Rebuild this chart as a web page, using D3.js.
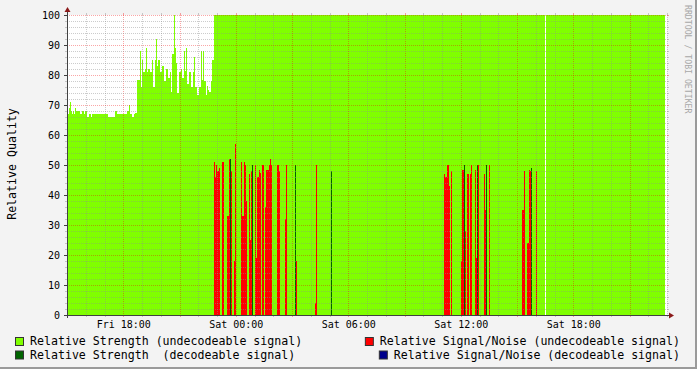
<!DOCTYPE html>
<html>
<head>
<meta charset="utf-8">
<script src="https://cdn.jsdelivr.net/npm/d3@7/dist/d3.min.js"></script>
<style>
    body { margin: 0; background: #f3f3f3; }
    svg { display: block; }
    text { font-family: "DejaVu Sans Mono", monospace; fill: #000; white-space: pre; }
</style>
</head>
<body>
<svg id="chart" width="697" height="369"></svg>
<script>
// time window: Fri 15:00 -> Sat 23:00, one sample every 192 s
var startTime = new Date(2008, 2, 7, 15, 0);
var endTime = new Date(2008, 2, 8, 23, 0);
var stepSec = 192;

var yTicks = [0, 10, 20, 30, 40, 50, 60, 70, 80, 90, 100];

// [first sample, value] runs, each lasts until the next run starts (null = no data)
var strengthUndecodeable = [
    [0, 67], [2, 69], [3, 71], [4, 68], [5, 67], [6, 68], [7, 67], [8, 69], [9, 68],
    [13, 67], [15, 68], [17, 67], [18, 68], [20, 66], [22, 67], [24, 66], [25, 67],
    [41, 66], [48, 68], [50, 67], [60, 68], [62, 70], [63, 67], [65, 66], [67, 67],
    [68, 67.5], [70, 78.5], [73, 88], [74, 76], [75, 85], [76, 81], [78, 82], [79, 89],
    [80, 81], [81, 82], [83, 81], [85, 85], [86, 76], [88, 85], [89, 92], [90, 83],
    [91, 85], [93, 81], [95, 83], [97, 78], [99, 82], [101, 79], [103, 81], [104, 74.5],
    [105, 87], [107, 100], [108, 89], [109, 84], [110, 74], [112, 81], [114, 82],
    [115, 79], [117, 88], [118, 81.5], [119, 89], [120, 77], [122, 81], [124, 76],
    [126, 81], [127, 86], [128, 76], [130, 73.5], [132, 76], [134, 88], [135, 78.5],
    [136, 88], [137, 78], [139, 73.5], [140, 76.5], [141, 75], [142, 74.5], [144, 78],
    [145, 85], [147, 100], [478, null], [479, 100], [598, null]
];

// [sample, value], one sample wide
var snrUndecodeable = [
    [147, 51], [148, 46], [149, 50], [150, 48], [151, 48], [152, 49], [155, 51], [156, 51],
    [160, 33], [161, 33], [162, 52], [164, 48], [167, 18], [168, 57], [174, 51], [175, 33],
    [176, 33], [177, 51], [178, 50], [179, 38], [182, 47], [183, 25], [184, 48], [188, 50],
    [189, 19], [190, 46], [191, 46], [192, 48.5], [193, 47.3], [195, 50], [196, 50],
    [198, 36], [199, 48.5], [200, 48.5], [201, 48.5], [202, 50], [203, 52], [204, 50],
    [210, 50], [211, 50], [212, 48], [218, 32], [219, 50], [229, 18], [248, 4], [249, 50],
    [377, 47], [378, 46], [379, 46], [380, 50], [381, 50], [382, 43], [384, 48],
    [394, 18], [395, 48.5], [396, 48.5], [397, 50], [398, 28], [400, 47], [401, 47],
    [403, 47], [404, 50], [408, 48.5], [409, 19], [410, 50], [411, 50], [417, 47],
    [418, 35], [419, 50], [422, 50], [455, 35], [456, 35], [457, 48], [460, 24],
    [461, 24], [462, 48.5], [463, 48], [464, 46], [469, 48]
];

var strengthDecodeable = [
    [163, 52], [185, 50], [228, 50], [264, 48], [397, 50], [410, 50], [419, 50], [464, 49]
];

var snrDecodeable = [];

var legendItems = [
    { label: "Relative Strength (undecodeable signal)", color: "#80ff00", row: 0, side: "left" },
    { label: "Relative Signal/Noise (undecodeable signal)", color: "#ff0000", row: 0, side: "right" },
    { label: "Relative Strength  (decodeable signal)", color: "#006400", row: 1, side: "left" },
    { label: "Relative Signal/Noise (decodeable signal)", color: "#00008b", row: 1, side: "right" }
];

var svg = d3.select("#chart"),
    cs = {
        left: 67, right: 667, top: 15, bottom: 315,
        pallette: {
            green: "#80ff00",
            red: "#ff0000",
            darkGreen: "#006400",
            blue: "#00008b",
            grid: "rgba(143,143,143,0.45)",
            mgrid: "rgba(240,0,0,0.35)",
            axis: "#404040",
            arrow: "#8b1a1a"
        }
    };

var x = d3.scaleTime().domain([startTime, endTime]).range([cs.left, cs.right]);
var y = d3.scaleLinear().domain([0, 100]).range([cs.bottom, cs.top]);
var at = s => new Date(startTime.getTime() + s * stepSec * 1000);

// frame shade
svg.append("rect").attr("width", 697).attr("height", 369).attr("fill", "#f3f3f3");
svg.append("path").attr("d", "M0,368H697M696,0V369").attr("stroke", "#9a9a9a").attr("stroke-width", 2).attr("fill", "none");

// canvas
svg.append("rect")
    .attr("x", cs.left).attr("y", cs.top)
    .attr("width", cs.right - cs.left).attr("height", cs.bottom - cs.top)
    .attr("fill", "#fff");

// green area from runs
var runs = [];
strengthUndecodeable.forEach((r, i) => {
    var next = strengthUndecodeable[i + 1];
    if (r[1] != null && next) runs.push({ from: r[0], to: next[0], v: r[1] });
});

svg.append("g").attr("shape-rendering", "crispEdges")
    .selectAll("rect").data(runs).join("rect")
    .attr("x", d => x(at(d.from)))
    .attr("width", d => x(at(d.to)) - x(at(d.from)))
    .attr("y", d => y(d.v))
    .attr("height", d => y(0) - y(d.v))
    .attr("fill", cs.pallette.green);

var drawBars = function (data, color) {
    svg.append("g").attr("shape-rendering", "crispEdges")
        .selectAll("rect").data(data).join("rect")
        .attr("x", d => x(at(d[0])))
        .attr("width", d => x(at(d[0] + 1)) - x(at(d[0])))
        .attr("y", d => y(d[1]))
        .attr("height", d => y(0) - y(d[1]))
        .attr("fill", color);
};
drawBars(snrUndecodeable, cs.pallette.red);
drawBars(strengthDecodeable, cs.pallette.darkGreen);
drawBars(snrDecodeable, cs.pallette.blue);

// grid (over the data, like rrdtool)
var grid = svg.append("g").attr("shape-rendering", "crispEdges").attr("fill", "none");
var hours = x.ticks(d3.timeHour.every(1));
hours.forEach(h => {
    var major = h.getHours() % 3 === 0,
        px = Math.round(x(h)) + 0.5,
        col = major ? cs.pallette.mgrid : cs.pallette.grid;
    grid.append("line").attr("x1", px).attr("x2", px).attr("y1", cs.top).attr("y2", cs.bottom)
        .attr("stroke", col).attr("stroke-dasharray", "1,1");
    grid.append("line").attr("x1", px).attr("x2", px).attr("y1", cs.bottom).attr("y2", cs.bottom + 2).attr("stroke", col);
    grid.append("line").attr("x1", px).attr("x2", px).attr("y1", cs.top - 2).attr("y2", cs.top).attr("stroke", col);
});
d3.range(0, 101, 2).forEach(v => {
    var major = v % 10 === 0,
        py = Math.round(y(v)) + 0.5,
        col = major ? cs.pallette.mgrid : cs.pallette.grid;
    grid.append("line").attr("x1", cs.left).attr("x2", cs.right).attr("y1", py).attr("y2", py)
        .attr("stroke", col).attr("stroke-dasharray", "1,1");
    grid.append("line").attr("x1", cs.left - 2).attr("x2", cs.left).attr("y1", py).attr("y2", py).attr("stroke", col);
    grid.append("line").attr("x1", cs.right).attr("x2", cs.right + 2).attr("y1", py).attr("y2", py).attr("stroke", col);
});

// axes labels
var yAxis = d3.axisLeft(y).tickValues(yTicks).tickSize(3).tickPadding(4);
var xAxis = d3.axisBottom(x).ticks(d3.timeHour.every(6)).tickFormat(d3.timeFormat("%a %H:%M")).tickSize(0).tickPadding(6);

svg.append("g").attr("transform", "translate(" + cs.left + ",0)").call(yAxis)
    .call(g => g.select(".domain").remove())
    .call(g => g.selectAll(".tick line").attr("stroke", cs.pallette.axis))
    .call(g => g.selectAll("text").attr("font-size", "10px").attr("font-family", "DejaVu Sans Mono"));

svg.append("g").attr("transform", "translate(0," + cs.bottom + ")").call(xAxis)
    .call(g => g.select(".domain").remove())
    .call(g => g.selectAll(".tick line").remove())
    .call(g => g.selectAll("text").attr("font-size", "10px").attr("font-family", "DejaVu Sans Mono"));

// axis lines with arrows
svg.append("path").attr("d", "M" + (cs.left - 3) + "," + (cs.bottom + 0.5) + "H" + (cs.right + 3))
    .attr("stroke", cs.pallette.axis).attr("fill", "none");
svg.append("path").attr("d", "M" + (cs.left + 0.5) + "," + (cs.bottom + 3) + "V" + (cs.top - 4))
    .attr("stroke", cs.pallette.axis).attr("fill", "none");
svg.append("path").attr("d", "M" + (cs.left - 2.5) + "," + (cs.top - 3) + "L" + (cs.left + 0.5) + "," + (cs.top - 8) + "L" + (cs.left + 3.5) + "," + (cs.top - 3) + "Z")
    .attr("fill", cs.pallette.arrow);
svg.append("path").attr("d", "M" + (cs.right + 2) + "," + (cs.bottom - 2.5) + "L" + (cs.right + 7) + "," + (cs.bottom + 0.5) + "L" + (cs.right + 2) + "," + (cs.bottom + 3.5) + "Z")
    .attr("fill", cs.pallette.arrow);

// vertical title and watermark
svg.append("text").attr("transform", "translate(16,164) rotate(-90)")
    .attr("text-anchor", "middle").attr("font-size", "11.6px").text("Relative Quality");
svg.append("text").attr("transform", "translate(685,5) rotate(90)")
    .attr("font-size", "8.2px").style("fill", "#a8a8a8").text("RRDTOOL / TOBI OETIKER");

// legend, justified on each row
var legend = svg.append("g");
legendItems.forEach(item => {
    var baseY = 345 + item.row * 13.5;
    var t = legend.append("text").attr("y", baseY).attr("font-size", "11.6px")
        .attr("xml:space", "preserve").text(item.label);
    var tx = 30;
    if (item.side === "right") tx = 680 - t.node().getComputedTextLength();
    t.attr("x", tx);
    legend.append("rect")
        .attr("x", tx - 14.5).attr("y", baseY - 7.5)
        .attr("width", 8).attr("height", 8)
        .attr("fill", item.color).attr("stroke", "#333").attr("stroke-width", 1);
});
</script>
</body>
</html>
